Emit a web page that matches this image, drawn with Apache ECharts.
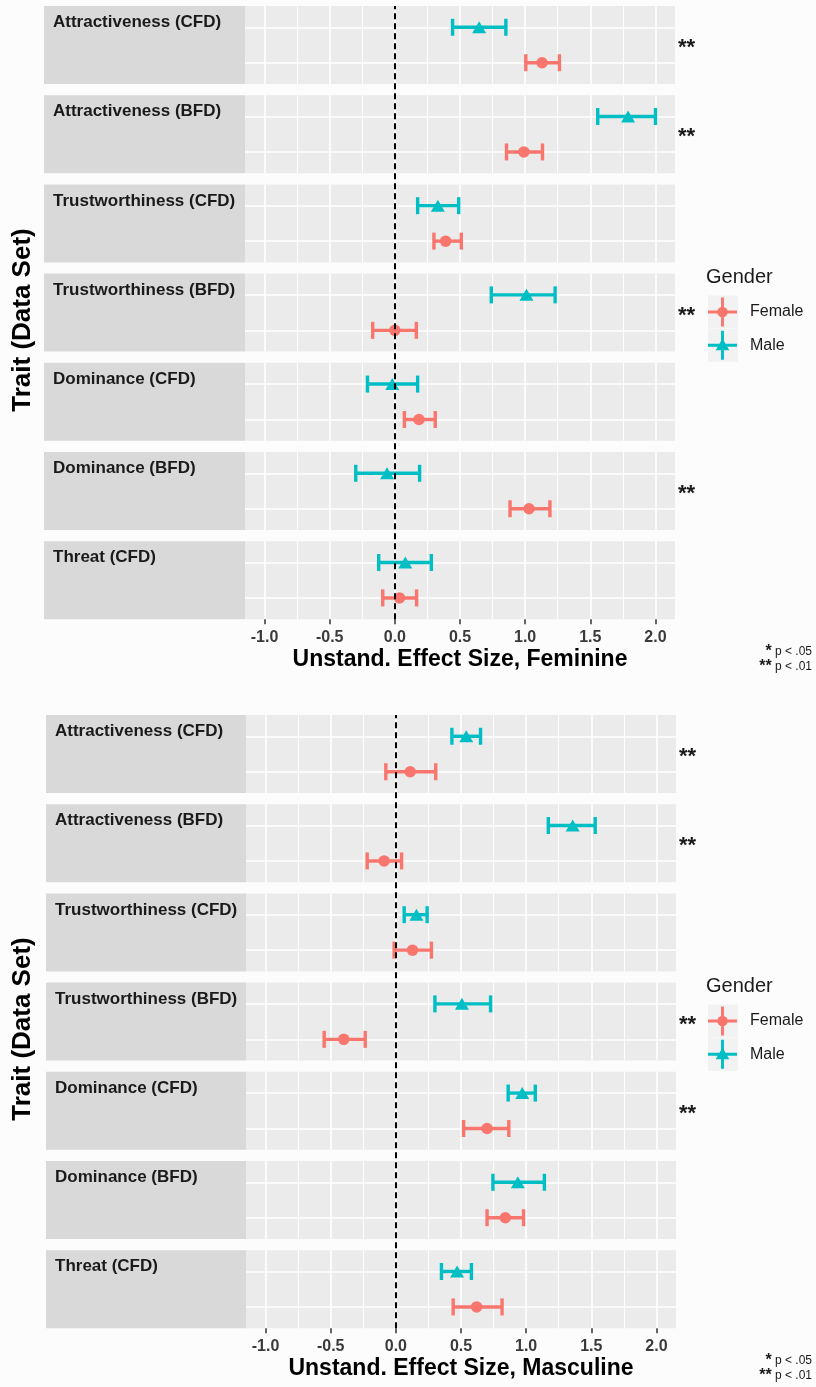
<!DOCTYPE html>
<html><head><meta charset="utf-8">
<script src="https://cdn.jsdelivr.net/npm/echarts@6/dist/echarts.min.js"></script>
<style>html,body{margin:0;padding:0;background:#fcfcfc}#c{width:816px;height:1387px}</style>
</head><body><div id="c"></div>
<script>
// ---------- data ----------
const traits = ['Attractiveness (CFD)','Attractiveness (BFD)','Trustworthiness (CFD)','Trustworthiness (BFD)','Dominance (CFD)','Dominance (BFD)','Threat (CFD)'];
const genders = ['Female','Male'];
const tickValues = [-1.0,-0.5,0.0,0.5,1.0,1.5,2.0];
const xTitles = ['Unstand. Effect Size, Feminine','Unstand. Effect Size, Masculine'];
const yTitle = 'Trait (Data Set)';
const legendTitle = 'Gender';
const footnotes = [['*',' p < .05'],['**',' p < .01']];

// Feminine
const femFemaleEst = [1.13, 0.99, 0.39, 0.00, 0.185, 1.03, 0.036];
const femFemaleLo  = [1.005, 0.857, 0.30, -0.17, 0.073, 0.884, -0.093];
const femFemaleHi  = [1.263, 1.133, 0.51, 0.165, 0.31, 1.19, 0.167];
const femMaleEst   = [0.647, 1.79, 0.33, 1.01, -0.02, -0.06, 0.08];
const femMaleLo    = [0.443, 1.557, 0.175, 0.74, -0.21, -0.30, -0.124];
const femMaleHi    = [0.852, 2.00, 0.49, 1.23, 0.175, 0.19, 0.28];
const femSig       = ['**','**','','**','','**',''];

// Masculine
const mascFemaleEst = [0.11, -0.09, 0.128, -0.40, 0.70, 0.84, 0.62];
const mascFemaleLo  = [-0.077, -0.22, -0.013, -0.55, 0.52, 0.70, 0.44];
const mascFemaleHi  = [0.306, 0.044, 0.273, -0.235, 0.867, 0.98, 0.815];
const mascMaleEst   = [0.54, 1.357, 0.158, 0.507, 0.97, 0.936, 0.47];
const mascMaleLo    = [0.43, 1.17, 0.064, 0.30, 0.862, 0.745, 0.35];
const mascMaleHi    = [0.65, 1.53, 0.24, 0.727, 1.07, 1.14, 0.58];
const mascSig       = ['**','**','','**','**','',''];

// ---------- layout / style ----------
const FONT = '"Liberation Sans", Arial, sans-serif';
const X_MIN = -1.15, X_MAX = 2.15;
const COLORS = {Female:'#F8766D', Male:'#00BFC4'};
const PANEL_H = 78, PERIOD = 89.2;
const charts = [
  {top:6, stripL:44, panelL:245, panelR:675, xTitle:xTitles[0], sig:femSig,
   Female:{est:femFemaleEst, lo:femFemaleLo, hi:femFemaleHi},
   Male:{est:femMaleEst, lo:femMaleLo, hi:femMaleHi}},
  {top:715, stripL:46, panelL:246, panelR:676, xTitle:xTitles[1], sig:mascSig,
   Female:{est:mascFemaleEst, lo:mascFemaleLo, hi:mascFemaleHi},
   Male:{est:mascMaleEst, lo:mascMaleLo, hi:mascMaleHi}}
];
const femIcon = 'path://M0,13.5L30,13.5L30,16.5L0,16.5Z M13.5,0L16.5,0L16.5,30L13.5,30Z M9.5,15A5.5,5.5,0,1,1,20.5,15A5.5,5.5,0,1,1,9.5,15Z';
const maleIcon = 'path://M0,13.5L30,13.5L30,16.5L0,16.5Z M13.5,0L16.5,0L16.5,30L13.5,30Z M15,8L22,20L8,20Z';

function errRender(params, api){
  const y = api.value(2);
  const lo = api.coord([api.value(0), y]);
  const hi = api.coord([api.value(1), y]);
  const c = api.visual('color');
  const cap = 8.5;
  const st = {stroke:c, lineWidth:3.4};
  return {type:'group', children:[
    {type:'line', shape:{x1:lo[0], y1:lo[1], x2:hi[0], y2:hi[1]}, style:st},
    {type:'line', shape:{x1:lo[0], y1:lo[1]-cap, x2:lo[0], y2:lo[1]+cap}, style:st},
    {type:'line', shape:{x1:hi[0], y1:hi[1]-cap, x2:hi[0], y2:hi[1]+cap}, style:st}
  ]};
}

const grids=[], xAxes=[], yAxes=[], series=[], graphics=[], legends=[];
charts.forEach((ch)=>{
  traits.forEach((t,pi)=>{
    const top = ch.top + pi*PERIOD;
    graphics.push({type:'rect', z:-10, silent:true, shape:{x:ch.stripL, y:top, width:ch.panelL-ch.stripL, height:PANEL_H}, style:{fill:'#d9d9d9'}});
    graphics.push({type:'text', silent:true, x:ch.stripL+9, y:top+16.5, style:{text:t, font:'bold 17px '+FONT, fill:'#1a1a1a', verticalAlign:'middle'}});
    const gi = grids.length;
    grids.push({left:ch.panelL, width:ch.panelR-ch.panelL, top:top, height:PANEL_H, show:true, backgroundColor:'#ebebeb', borderWidth:0});
    xAxes.push({gridIndex:gi, type:'value', min:X_MIN, max:X_MAX,
      axisLine:{show:false}, axisTick:{show:false, customValues:tickValues}, axisLabel:{show:false, customValues:tickValues},
      splitLine:{show:true, lineStyle:{color:'#ffffff', width:1.6}},
      minorTick:{show:false, splitNumber:2}, minorSplitLine:{show:true, lineStyle:{color:'#ffffff', width:0.9}}});
    yAxes.push({gridIndex:gi, type:'value', min:0.4, max:2.6,
      axisLine:{show:false}, axisTick:{show:false, customValues:[1,2]}, axisLabel:{show:false, customValues:[1,2]},
      splitLine:{show:true, lineStyle:{color:'#ffffff', width:1.6}}});
    genders.forEach((g,gk)=>{
      const d = ch[g];
      series.push({type:'scatter', name:g, xAxisIndex:gi, yAxisIndex:gi, silent:true, z:4,
        symbol: g==='Female' ? 'circle' : 'triangle', symbolSize: g==='Female' ? 11.5 : [14,12],
        itemStyle:{color:COLORS[g], opacity:1}, data:[[d.est[pi], gk+1]]});
      series.push({type:'custom', name:g, xAxisIndex:gi, yAxisIndex:gi, silent:true, z:3,
        itemStyle:{color:COLORS[g]}, renderItem:errRender, encode:{x:[0,1], y:2},
        data:[[d.lo[pi], d.hi[pi], gk+1]]});
    });
    if (ch.sig[pi]) graphics.push({type:'text', silent:true, x:ch.panelR+3, y:top+PANEL_H/2+3,
      style:{text:ch.sig[pi], font:'bold 22px '+FONT, fill:'#1a1a1a', verticalAlign:'middle'}});
  });
  // overlay grid: x axis ticks/labels/title + zero line
  const oi = grids.length;
  const fullH = 6*PERIOD + PANEL_H;
  grids.push({left:ch.panelL, width:ch.panelR-ch.panelL, top:ch.top, height:fullH, show:false});
  xAxes.push({gridIndex:oi, type:'value', min:X_MIN, max:X_MAX,
    name:ch.xTitle, nameLocation:'middle', nameGap:29,
    nameTextStyle:{fontFamily:FONT, fontSize:23, fontWeight:'bold', color:'#000'},
    axisLine:{show:false},
    axisTick:{show:true, customValues:tickValues, length:5, lineStyle:{color:'#333333', width:1.5}},
    axisLabel:{show:true, customValues:tickValues, formatter:v=>Number(v).toFixed(1), margin:10,
      color:'#3a3a3a', fontSize:16, fontWeight:'bold', fontFamily:FONT},
    splitLine:{show:false}});
  yAxes.push({gridIndex:oi, type:'value', min:0, max:1, show:false});
  series.push({type:'line', xAxisIndex:oi, yAxisIndex:oi, data:[], silent:true, z:6,
    markLine:{silent:true, symbol:'none', label:{show:false}, animation:false,
      lineStyle:{color:'#000000', type:[6,4], width:2}, data:[{xAxis:0}]}});
  // y title
  graphics.push({type:'text', silent:true, x:23, y:ch.top+314, rotation:Math.PI/2,
    style:{text:yTitle, font:'bold 26px '+FONT, fill:'#000', align:'center', verticalAlign:'middle'}});
  // legend
  graphics.push({type:'text', silent:true, x:706, y:ch.top+271, style:{text:legendTitle, font:'20px '+FONT, fill:'#1a1a1a', verticalAlign:'middle'}});
  [0,1].forEach(k=>{
    graphics.push({type:'rect', z:-5, silent:true, shape:{x:708, y:ch.top+306-16.5+k*33.3, width:30, height:33}, style:{fill:'#f2f2f2'}});
  });
  legends.push({left:708, top:ch.top+306-14.5, orient:'vertical', padding:0, itemWidth:29, itemHeight:29, itemGap:4.3,
    selectedMode:false, data:[{name:'Female', icon:femIcon},{name:'Male', icon:maleIcon}],
    textStyle:{fontFamily:FONT, fontSize:16, color:'#1a1a1a', padding:[0,0,0,8]}});
  // footnotes
  footnotes.forEach((f,k)=>{
    graphics.push({type:'text', silent:true, x:812, y:ch.top+646+k*14.5,
      style:{text:'{b|'+f[0]+'}'+f[1], font:'12px '+FONT, fill:'#1a1a1a', align:'right', verticalAlign:'middle',
        rich:{b:{font:'bold 16px '+FONT, fill:'#1a1a1a'}}}});
  });
});

const chart = echarts.init(document.getElementById('c'), null, {renderer:'canvas'});
chart.setOption({
  backgroundColor:'#fcfcfc', animation:false,
  grid:grids, xAxis:xAxes, yAxis:yAxes, series:series, legend:legends,
  graphic:graphics
});
</script></body></html>
